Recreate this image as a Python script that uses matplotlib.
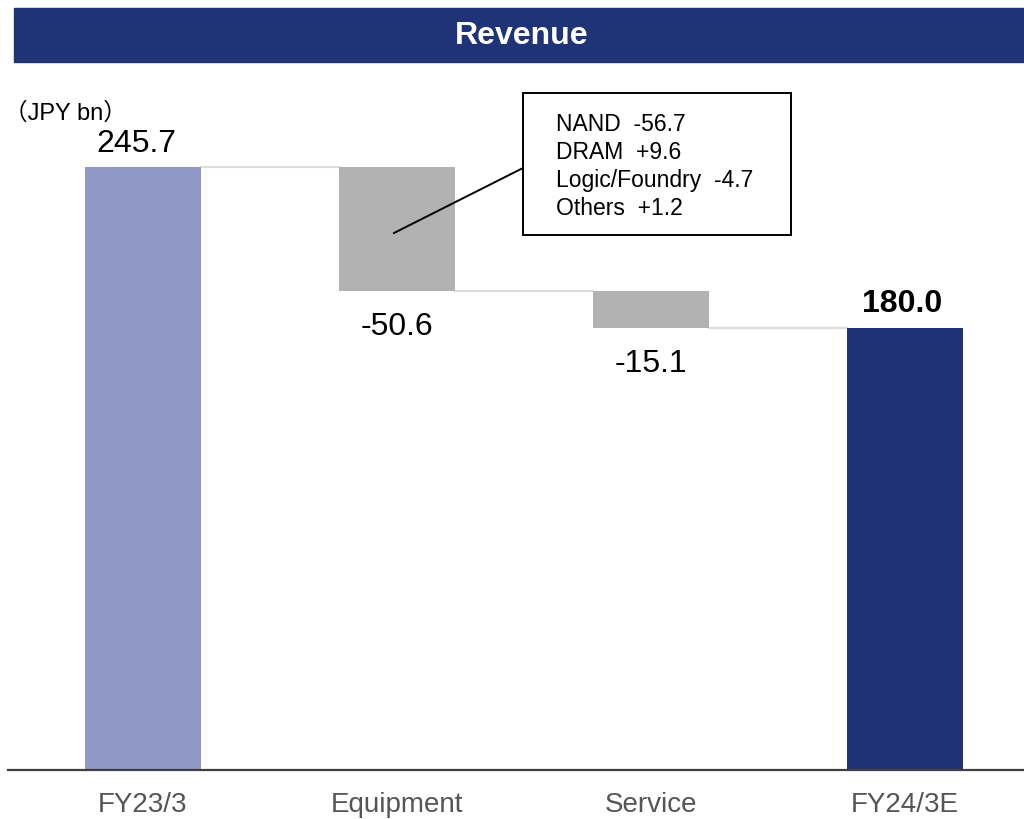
import matplotlib
matplotlib.use("Agg")
import matplotlib.pyplot as plt
from matplotlib.patches import Rectangle
from matplotlib.lines import Line2D

plt.rcParams['font.family'] = ['Liberation Sans', 'Noto Sans CJK JP', 'DejaVu Sans']

# data
categories = ['FY23/3', 'Equipment', 'Service', 'FY24/3E']
start_value = 245.7
changes = [-50.6, -15.1]
end_value = 180.0
seg_names = ['NAND', 'DRAM', 'Logic/Foundry', 'Others']
seg_values = [-56.7, 9.6, -4.7, 1.2]

W, H = 1024, 819
fig = plt.figure(figsize=(W / 100, H / 100), dpi=100)


def fx(px):
    return px / W


def fy(py):
    return 1 - py / H


# title banner
fig.patches.append(Rectangle((fx(14), fy(62)), fx(W - 14), 54 / H,
                             transform=fig.transFigure, color='#1f3377', zorder=0))
fig.text(fx(522), fy(36), 'Revenue', color='white', fontsize=23, fontweight='bold',
         ha='center', va='center')

ax = fig.add_axes([fx(8), 49 / H, 1016 / W, 670 / H])

c_start = '#9098c5'
c_delta = '#b2b2b2'
c_end = '#203275'
bw = 0.457

# waterfall
levels = [start_value]
for ch in changes:
    levels.append(levels[-1] + ch)

x = list(range(len(categories)))
ax.bar(x[0], start_value, width=bw, color=c_start, zorder=2)
for i, ch in enumerate(changes):
    top = levels[i]
    bottom = levels[i + 1]
    ax.bar(x[i + 1], top - bottom, bottom=bottom, width=bw, color=c_delta, zorder=2)
ax.bar(x[-1], end_value, width=bw, color=c_end, zorder=2)

# connectors
for i, lv in enumerate(levels):
    ax.plot([x[i] + bw / 2, x[i + 1] - bw / 2], [lv, lv], color='#dcdcdc', lw=1.5, zorder=1)

# value labels
ax.annotate(f'{start_value:.1f}', (x[0], start_value), xytext=(-6, 8),
            textcoords='offset pixels', ha='center', va='bottom', fontsize=23)
for i, ch in enumerate(changes):
    ax.annotate(f'{ch:.1f}', (x[i + 1], levels[i + 1]), xytext=(0, -21),
                textcoords='offset pixels', ha='center', va='top', fontsize=23)
ax.annotate(f'{end_value:.1f}', (x[-1], end_value), xytext=(-2, 9),
            textcoords='offset pixels', ha='center', va='bottom', fontsize=23,
            fontweight='bold')

ax.set_xlim(-0.53, 3.47)
ax.set_ylim(0, 273)
ax.set_xticks(x)
ax.set_xticklabels(categories, fontsize=20, color='#555555')
ax.tick_params(axis='x', length=0, pad=16)
ax.set_yticks([])
for s in ['top', 'right', 'left']:
    ax.spines[s].set_visible(False)
ax.spines['bottom'].set_color('#404040')
ax.spines['bottom'].set_linewidth(1.6)

# unit label
fig.text(fx(4), fy(113), '（JPY bn）', fontsize=17, ha='left', va='center',
         family=['Liberation Sans', 'Noto Sans CJK JP'])

# breakdown callout
fig.patches.append(Rectangle((fx(523), fy(235)), (791 - 523) / W, (235 - 93) / H,
                             transform=fig.transFigure, facecolor='white',
                             edgecolor='black', lw=1.4, zorder=3))
fig.lines.append(Line2D([fx(394), fx(523)], [fy(233), fy(168)],
                        transform=fig.transFigure, color='black', lw=1.4, zorder=3))
for k, (name, v) in enumerate(zip(seg_names, seg_values)):
    fig.text(fx(556), fy(131 + 28 * k), f'{name}  {v:+.1f}', fontsize=16.5,
             ha='left', va='baseline', zorder=4)

fig.savefig('out.png', dpi=100)
